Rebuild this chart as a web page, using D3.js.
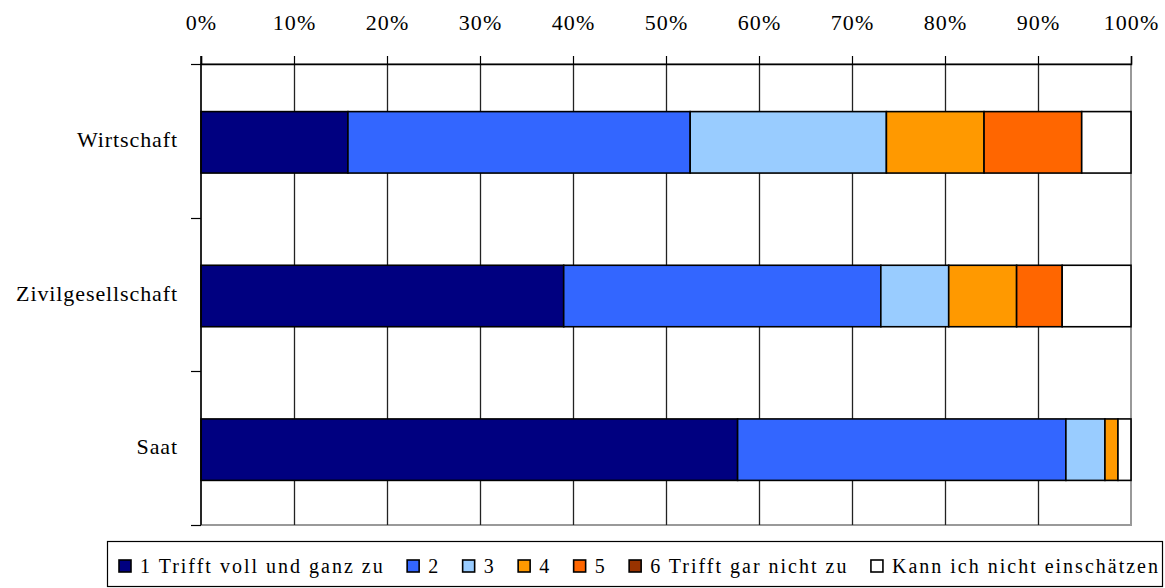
<!DOCTYPE html>
<html>
<head>
<meta charset="utf-8">
<script src="https://cdn.jsdelivr.net/npm/d3@7/dist/d3.min.js"></script>
<style>
  html, body { margin: 0; padding: 0; background: #fff; }
  svg { display: block; font-family: "Liberation Serif", "Times New Roman", serif; }
</style>
</head>
<body>
<svg id="chart" width="1165" height="588"></svg>
<script>
// Rating categories (stack order, left to right)
const seriesNames = ["1 Trifft voll und ganz zu", "2", "3", "4", "5", "6 Trifft gar nicht zu", "Kann ich nicht einschätzen"];
const seriesColors = ["#000080", "#3366FF", "#99CCFF", "#FF9900", "#FF6600", "#993300", "#FFFFFF"];

// Groups (top to bottom)
const categories = ["Wirtschaft", "Zivilgesellschaft", "Saat"];

// Share of answers per group, in percent
const wirtschaft        = [15.8, 36.8, 21.1, 10.5, 10.5, 0, 5.3];
const zivilgesellschaft = [39.0, 34.1, 7.3, 7.3, 4.9, 0, 7.4];
const saat              = [57.7, 35.3, 4.2, 1.4, 0, 0, 1.4];

const tickValues = [0, 10, 20, 30, 40, 50, 60, 70, 80, 90, 100];

const rows = [wirtschaft, zivilgesellschaft, saat].map((vals, i) => {
  const o = { category: categories[i] };
  seriesNames.forEach((s, j) => o[s] = vals[j]);
  return o;
});

const svg = d3.select("#chart");
const plot = { left: 201, right: 1131, top: 64, bottom: 525 };

const x = d3.scaleLinear().domain([0, 100]).range([plot.left, plot.right]);
const y = d3.scaleBand().domain(categories)
  .range([plot.top + 1.5, plot.bottom + 1.5])
  .paddingInner(0.6).paddingOuter(0.3);

const stack = d3.stack().keys(seriesNames);
const layers = stack(rows);

// plot area frame
svg.append("rect")
  .attr("x", plot.left).attr("y", plot.top)
  .attr("width", plot.right - plot.left).attr("height", plot.bottom - plot.top)
  .attr("fill", "#fff").attr("stroke", "#999").attr("stroke-width", 2);

// vertical gridlines
svg.append("g").selectAll("line")
  .data(tickValues.slice(1, -1))
  .join("line")
  .attr("x1", d => Math.round(x(d)) + 0.5).attr("x2", d => Math.round(x(d)) + 0.5)
  .attr("y1", plot.top).attr("y2", plot.bottom)
  .attr("stroke", "#222").attr("stroke-width", 1.3);

// stacked bars
svg.append("g").selectAll("g")
  .data(layers)
  .join("g")
  .attr("fill", (d, i) => seriesColors[i])
  .selectAll("rect")
  .data(d => d.filter(s => s[1] - s[0] > 0))
  .join("rect")
  .attr("x", d => x(d[0]))
  .attr("y", d => y(d.data.category))
  .attr("width", d => x(d[1]) - x(d[0]))
  .attr("height", y.bandwidth())
  .attr("stroke", "#000").attr("stroke-width", 1.6);

// top value axis
const xAxis = d3.axisTop(x).tickValues(tickValues)
  .tickFormat(d => d + "%").tickSize(8).tickPadding(26);
const gx = svg.append("g").attr("transform", `translate(0,${plot.top})`).call(xAxis);
gx.select(".domain").attr("stroke", "#000").attr("stroke-width", 1.5);
gx.selectAll(".tick line").attr("stroke", "#000").attr("stroke-width", 1.2);
gx.selectAll(".tick text")
  .attr("font-family", "Liberation Serif, Times New Roman, serif")
  .attr("font-size", 22).attr("letter-spacing", 1.1).attr("fill", "#000");

// left category axis: separator ticks between groups
const step = (plot.bottom - plot.top) / categories.length;
const sepTicks = d3.range(categories.length + 1).map(i => plot.top + i * step);
svg.append("line")
  .attr("x1", plot.left).attr("x2", plot.left)
  .attr("y1", plot.top - 8).attr("y2", plot.bottom)
  .attr("stroke", "#000").attr("stroke-width", 1.5);
svg.append("g").selectAll("line")
  .data(sepTicks)
  .join("line")
  .attr("x1", plot.left - 10).attr("x2", plot.left)
  .attr("y1", d => Math.round(d) + 0.5).attr("y2", d => Math.round(d) + 0.5)
  .attr("stroke", "#000").attr("stroke-width", 1.2);

// category labels
svg.append("g").selectAll("text")
  .data(categories)
  .join("text")
  .attr("x", 178)
  .attr("y", d => y(d) + y.bandwidth() / 2 + 4.5)
  .attr("text-anchor", "end")
  .attr("font-size", 22).attr("letter-spacing", 0.9)
  .attr("fill", "#000")
  .text(d => d);

// legend
const legend = svg.append("g");
legend.append("rect")
  .attr("x", 107.5).attr("y", 541.5)
  .attr("width", 1055).attr("height", 45)
  .attr("fill", "#fff").attr("stroke", "#000").attr("stroke-width", 1.2);

let lx = 118;
seriesNames.forEach((name, i) => {
  legend.append("rect")
    .attr("x", lx + 1).attr("y", 560)
    .attr("width", 12).attr("height", 12)
    .attr("fill", seriesColors[i]).attr("stroke", "#000").attr("stroke-width", 1.6);
  const t = legend.append("text")
    .attr("x", lx + 22).attr("y", 573)
    .attr("font-size", 20).attr("letter-spacing", 2.0)
    .attr("fill", "#000")
    .text(name);
  lx = lx + 22 + t.node().getComputedTextLength() + 21.5;
});
</script>
</body>
</html>
